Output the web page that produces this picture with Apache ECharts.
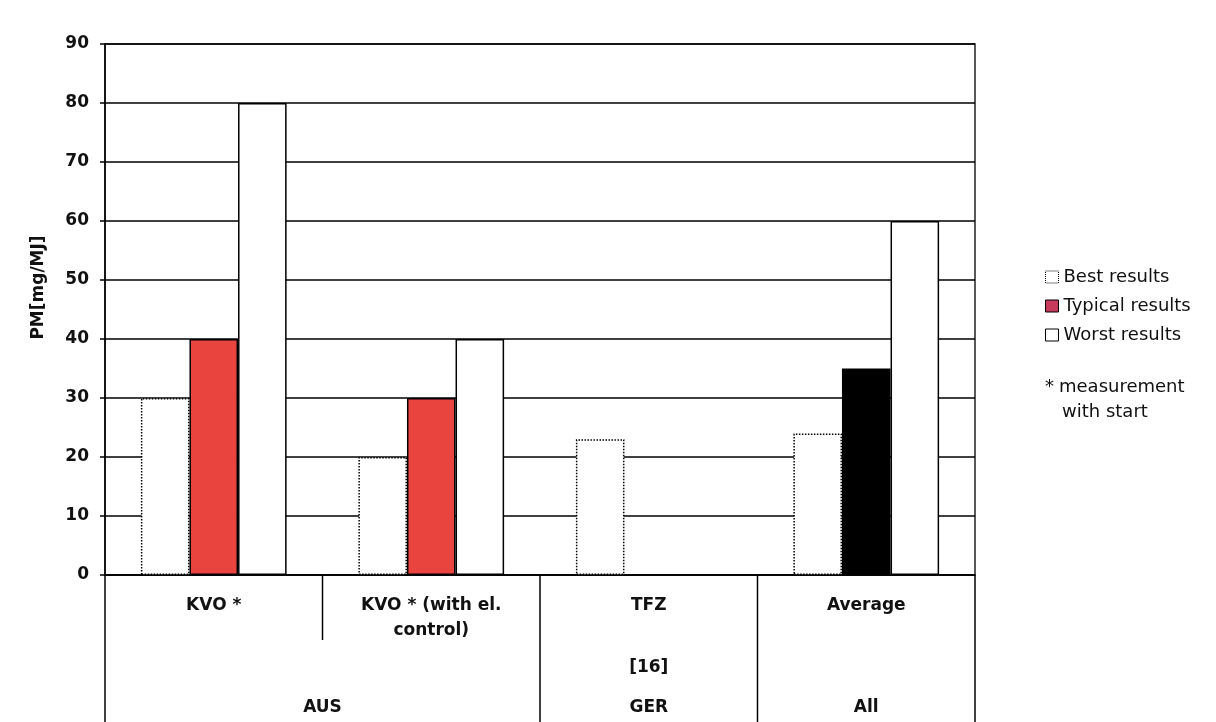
<!DOCTYPE html>
<html>
<head>
<meta charset="utf-8">
<script src="https://cdn.jsdelivr.net/npm/echarts@6/dist/echarts.min.js"></script>
<style>
html,body{margin:0;padding:0;background:#fff;}
#chart{width:1216px;height:722px;}
</style>
</head>
<body>
<div id="chart"></div>
<script>
// ---- data ----
const categories = ['KVO *', 'KVO * (with el.\ncontrol)', 'TFZ', 'Average'];
const regionLabels = ['AUS', 'GER', 'All'];
const regionSpans = [[0, 1], [2, 2], [3, 3]];
const sourceRefs = ['', '', '[16]', ''];
const bestValues = [30, 20, 23, 24];
const typicalValues = [40, 30, null, 35];
const worstValues = [80, 40, null, 60];
const seriesNames = ['Best results', 'Typical results', 'Worst results'];
const yAxisTitle = 'PM[mg/MJ]';
const noteStar = '*';
const noteLines = ['measurement', 'with start'];
const yMin = 0, yMax = 90, yInterval = 10;

const FONT = '"DejaVu Sans", sans-serif';
const RED = '#e9443e';
const LW = 1.5;

const chart = echarts.init(document.getElementById('chart'), null, {renderer: 'canvas'});

const option = {
  backgroundColor: '#fff',
  animation: false,
  grid: {left: 105, right: 241, top: 44, bottom: 147, show: true, borderColor: '#222', borderWidth: LW, backgroundColor: 'transparent'},
  legend: {
    orient: 'vertical',
    left: 1040, top: 263,
    icon: 'rect',
    itemWidth: 13, itemHeight: 12, itemGap: 11,
    textStyle: {fontFamily: FONT, fontSize: 18, color: '#111'},
    data: [
      {name: seriesNames[0], itemStyle: {color: '#fff', borderColor: '#000', borderType: 'dotted', borderWidth: 1}},
      {name: seriesNames[1], itemStyle: {color: '#c83a5c', borderColor: '#000', borderWidth: 1}},
      {name: seriesNames[2], itemStyle: {color: '#fff', borderColor: '#000', borderWidth: 1}}
    ]
  },
  xAxis: {
    type: 'category',
    data: categories,
    axisLine: {show: true, lineStyle: {color: '#000', width: LW}},
    axisTick: {show: false},
    axisLabel: {fontFamily: FONT, fontSize: 17, fontWeight: 'bold', color: '#111', margin: 18, lineHeight: 25, interval: 0},
    splitLine: {show: false}
  },
  yAxis: {
    type: 'value',
    min: yMin, max: yMax, interval: yInterval,
    axisLine: {show: true, lineStyle: {color: '#000', width: LW}},
    axisTick: {show: true, length: 5, lineStyle: {color: '#000', width: LW}},
    axisLabel: {fontFamily: FONT, fontSize: 17, fontWeight: 'bold', color: '#111', margin: 16},
    splitLine: {show: true, lineStyle: {color: '#000', width: LW}}
  },
  series: [
    {
      name: seriesNames[0], type: 'bar', data: bestValues,
      barGap: '0%', barCategoryGap: '33%',
      itemStyle: {color: '#fff', borderColor: '#000', borderWidth: LW, borderType: 'dotted'}
    },
    {
      name: seriesNames[1], type: 'bar',
      data: typicalValues.map((v, i) => categories[i] === 'Average' ? {value: v, itemStyle: {color: '#000'}} : v),
      barGap: '0%', barCategoryGap: '33%',
      itemStyle: {color: RED, borderColor: '#000', borderWidth: LW}
    },
    {
      name: seriesNames[2], type: 'bar', data: worstValues,
      barGap: '0%', barCategoryGap: '33%',
      itemStyle: {color: '#fff', borderColor: '#000', borderWidth: LW}
    }
  ]
};
chart.setOption(option);

function addTable() {
  const px = categories.map((c, i) => chart.convertToPixel({xAxisIndex: 0}, i));
  const step = px[1] - px[0];
  const y0 = chart.convertToPixel({yAxisIndex: 0}, yMin);
  const yMid = (chart.convertToPixel({yAxisIndex: 0}, yMin) + chart.convertToPixel({yAxisIndex: 0}, yMax)) / 2;
  const bottom = 722;
  const els = [];
  const lineStyle = {stroke: '#000', lineWidth: LW};
  // vertical lines at category boundaries: full height for region borders, short inside a region
  const regionBounds = new Set([0]);
  regionSpans.forEach(s => regionBounds.add(s[1] + 1));
  for (let b = 0; b <= categories.length; b++) {
    const x = px[0] - step / 2 + b * step;
    const y2 = regionBounds.has(b) ? bottom : y0 + 65;
    els.push({type: 'line', shape: {x1: x, y1: y0, x2: x, y2: y2}, style: lineStyle, silent: true});
  }
  // region labels
  regionSpans.forEach((s, k) => {
    const cx = (px[s[0]] + px[s[1]]) / 2;
    els.push({type: 'text', x: cx, y: 708, style: {text: regionLabels[k], font: 'bold 17px ' + FONT, fill: '#111', textAlign: 'center', textVerticalAlign: 'middle'}, silent: true});
  });
  // source refs
  sourceRefs.forEach((r, i) => {
    if (!r) return;
    els.push({type: 'text', x: px[i], y: 668, style: {text: r, font: 'bold 17px ' + FONT, fill: '#111', textAlign: 'center', textVerticalAlign: 'middle'}, silent: true});
  });
  // y axis title
  els.push({type: 'text', x: 39, y: yMid - 22, rotation: Math.PI / 2, style: {text: yAxisTitle, font: 'bold 17px ' + FONT, fill: '#111', textAlign: 'center', textVerticalAlign: 'middle'}, silent: true});
  // note
  els.push({type: 'text', x: 1045, y: 387, style: {text: noteStar, font: '18px ' + FONT, fill: '#111', textAlign: 'left', textVerticalAlign: 'middle'}, silent: true});
  els.push({type: 'text', x: 1059, y: 387, style: {text: noteLines[0], font: '18px ' + FONT, fill: '#111', textAlign: 'left', textVerticalAlign: 'middle'}, silent: true});
  els.push({type: 'text', x: 1062, y: 412, style: {text: noteLines[1], font: '18px ' + FONT, fill: '#111', textAlign: 'left', textVerticalAlign: 'middle'}, silent: true});
  chart.setOption({graphic: {elements: els}});
}
addTable();
</script>
</body>
</html>
